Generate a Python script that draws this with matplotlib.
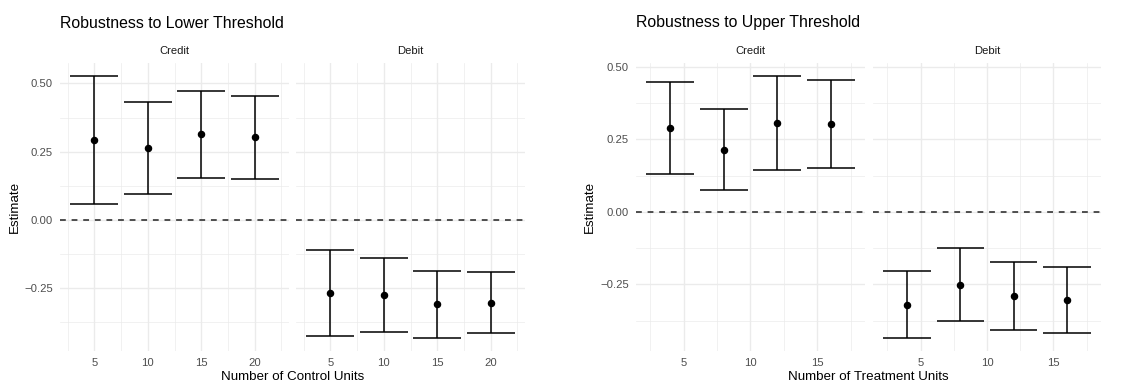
import numpy as np
import matplotlib
matplotlib.use("Agg")
import matplotlib.pyplot as plt
from matplotlib.ticker import FixedLocator, FuncFormatter

plt.rcParams['font.family'] = ['Liberation Sans', 'DejaVu Sans']

# Robustness to lower threshold (x = number of control units)
lower_x = [5, 10, 15, 20]
lower_credit_est = [0.292, 0.263, 0.313, 0.302]
lower_credit_lo = [0.059, 0.095, 0.153, 0.150]
lower_credit_hi = [0.526, 0.433, 0.474, 0.454]
lower_debit_est = [-0.270, -0.278, -0.311, -0.306]
lower_debit_lo = [-0.427, -0.414, -0.433, -0.417]
lower_debit_hi = [-0.111, -0.139, -0.187, -0.192]

# Robustness to upper threshold (x = number of treatment units)
upper_x = [4, 8, 12, 16]
upper_credit_est = [0.289, 0.214, 0.305, 0.302]
upper_credit_lo = [0.132, 0.075, 0.143, 0.151]
upper_credit_hi = [0.447, 0.353, 0.467, 0.455]
upper_debit_est = [-0.320, -0.251, -0.291, -0.305]
upper_debit_lo = [-0.434, -0.376, -0.409, -0.417]
upper_debit_hi = [-0.205, -0.124, -0.174, -0.192]

W, H = 1138, 385
fig = plt.figure(figsize=(W / 100, H / 100), dpi=100)

GRID = '#EBEBEB'
TITLE_FS = 11.4
AXIS_FS = 9.6
TICK_FS = 8.1
LW = 1.1


def px_axes(x0, x1, y0, y1):
    return fig.add_axes([x0 / W, (H - y1) / H, (x1 - x0) / W, (y1 - y0) / H])


def fmt(v, pos):
    return f"{v:.2f}".replace('-', '\u2212')


def draw_block(x, facets, xticks, xminor, panels_px, title, xlabel, ylabel_x):
    x = np.asarray(x, float)
    w = 0.9 * np.diff(x).min()
    xmin, xmax = x.min() - w / 2, x.max() + w / 2
    xr = xmax - xmin
    xlim = (xmin - 0.05 * xr, xmax + 0.05 * xr)
    ymin = min(min(f[2]) for f in facets)
    ymax = max(max(f[3]) for f in facets)
    yr = ymax - ymin
    ylim = (ymin - 0.05 * yr, ymax + 0.05 * yr)

    for i, ((name, est, lo, hi), (px0, px1)) in enumerate(zip(facets, panels_px)):
        ax = px_axes(px0, px1, 63.3, 350.7)
        ax.set_xlim(*xlim)
        ax.set_ylim(*ylim)
        for s in ax.spines.values():
            s.set_visible(False)
        ax.xaxis.set_major_locator(FixedLocator(xticks))
        ax.xaxis.set_minor_locator(FixedLocator(xminor))
        ax.yaxis.set_major_locator(FixedLocator([-0.25, 0, 0.25, 0.5]))
        ax.yaxis.set_minor_locator(FixedLocator([-0.375, -0.125, 0.125, 0.375]))
        ax.grid(which='major', color=GRID, linewidth=1.0)
        ax.grid(which='minor', color=GRID, linewidth=0.5)
        ax.set_axisbelow(True)
        ax.tick_params(which='both', length=0)
        ax.tick_params(axis='x', pad=5, labelsize=TICK_FS, labelcolor='#4D4D4D')
        ax.tick_params(axis='y', pad=5, labelsize=TICK_FS, labelcolor='#4D4D4D')
        ax.yaxis.set_major_formatter(FuncFormatter(fmt))
        if i > 0:
            ax.tick_params(axis='y', labelleft=False)

        ax.axhline(0, color='#222222', linewidth=LW, dashes=(3.8, 3.8))
        ax.vlines(x, lo, hi, color='black', linewidth=LW)
        ax.hlines(lo, x - w / 2, x + w / 2, color='black', linewidth=LW)
        ax.hlines(hi, x - w / 2, x + w / 2, color='black', linewidth=LW)
        ax.plot(x, est, 'o', color='black', markersize=4.4)
        ax.text(0.5, 1.0 + 7 / 287.4, name, transform=ax.transAxes, ha='center',
                va='bottom', fontsize=TICK_FS, color='#1A1A1A')

    left = panels_px[0][0]
    right = panels_px[-1][1]
    fig.text(left / W, 1 - 23 / H, title, ha='left', va='center', fontsize=TITLE_FS)
    fig.text((left + right) / 2 / W, 1 - 377 / H, xlabel, ha='center', va='center',
             fontsize=AXIS_FS)
    fig.text(ylabel_x / W, 1 - 207 / H, 'Estimate', ha='center', va='center',
             rotation=90, fontsize=AXIS_FS)


draw_block(lower_x,
           [('Credit', lower_credit_est, lower_credit_lo, lower_credit_hi),
            ('Debit', lower_debit_est, lower_debit_lo, lower_debit_hi)],
           [5, 10, 15, 20], [2.5, 7.5, 12.5, 17.5, 22.5],
           [(60, 289), (296, 525)],
           'Robustness to Lower Threshold', 'Number of Control Units', 15)

draw_block(upper_x,
           [('Credit', upper_credit_est, upper_credit_lo, upper_credit_hi),
            ('Debit', upper_debit_est, upper_debit_lo, upper_debit_hi)],
           [5, 10, 15], [2.5, 7.5, 12.5, 17.5],
           [(636, 865), (873, 1101)],
           'Robustness to Upper Threshold', 'Number of Treatment Units', 590)

fig.savefig('out.png', dpi=100, facecolor='white')
